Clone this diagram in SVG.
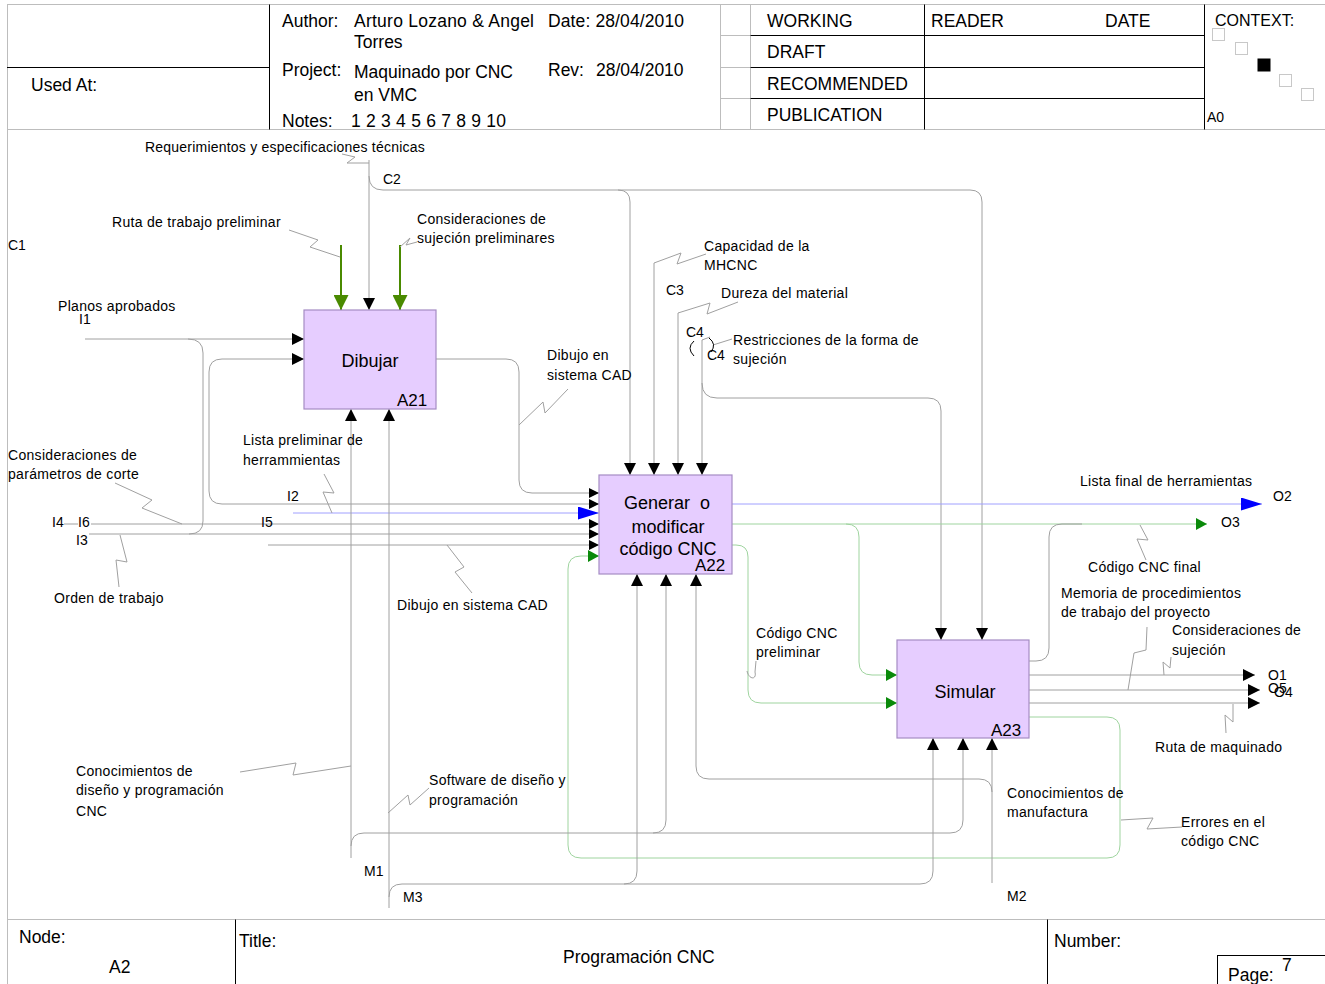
<svg xmlns="http://www.w3.org/2000/svg" width="1325" height="984" viewBox="0 0 1325 984">
<style>
text{font-family:"Liberation Sans",Arial,sans-serif;fill:#000}
.h{font-size:17.5px}
.l{font-size:14px;letter-spacing:0.3px}
.n{font-size:14px}
.bt{font-size:18px;text-anchor:middle}
.bn{font-size:17px}
.fg{stroke:#bdbdbd;stroke-width:1;fill:none}
.fb{stroke:#000;stroke-width:1;fill:none}
.c{stroke:#a0a0a0;stroke-width:1;fill:none}
.cg{stroke:#9fd49f;stroke-width:1;fill:none}
.cb{stroke:#a0a0ff;stroke-width:1;fill:none}
.gt{stroke:#4a8a00;stroke-width:2;fill:none}
.sq{stroke:#a0a0a0;stroke-width:1;fill:none}
.box{fill:#e6cdff;stroke:#a58cc4;stroke-width:1.2}
.cx{fill:#fff;stroke:#c8c8c8;stroke-width:1}
</style>
<defs>
<marker id="ab" viewBox="0 0 12 12" refX="12" refY="6" markerWidth="12" markerHeight="12" orient="auto" markerUnits="userSpaceOnUse"><path d="M0,0L12,6L0,12z" fill="#000"/></marker>
<marker id="as" viewBox="0 0 10 10" refX="10" refY="5" markerWidth="10" markerHeight="10" orient="auto" markerUnits="userSpaceOnUse"><path d="M0,0L10,5L0,10z" fill="#000"/></marker>
<marker id="ag" viewBox="0 0 11 12" refX="11" refY="6" markerWidth="11" markerHeight="12" orient="auto" markerUnits="userSpaceOnUse"><path d="M0,0L11,6L0,12z" fill="#0a8a0a"/></marker>
<marker id="agb" viewBox="0 0 15 15" refX="15" refY="7.5" markerWidth="15" markerHeight="15" orient="auto" markerUnits="userSpaceOnUse"><path d="M0,0L15,7.5L0,15z" fill="#4a8a00"/></marker>
<marker id="abl" viewBox="0 0 21 13" refX="21" refY="6.5" markerWidth="21" markerHeight="13" orient="auto" markerUnits="userSpaceOnUse"><path d="M0,0L21,6.5L0,13z" fill="#0000ff"/></marker>
</defs>
<rect x="0" y="0" width="1325" height="984" fill="#fff"/>

<g id="frame">
<path class="fg" d="M7,4.5H1325M7.5,4.5V984M7,129.5H1325M7,919.5H1325"/>
<path class="fb" d="M269.5,4.5V129.5M7,67.5H269.5"/>
<path class="fg" d="M720.5,4.5V129.5M750.5,4.5V129.5M720.5,35.5H750.5M720.5,67.5H750.5M720.5,98.5H750.5"/>
<path class="fb" d="M750.5,35.5H1204.5M750.5,67.5H1204.5M750.5,98.5H1204.5M924.5,4.5V129.5M1204.5,4.5V129.5"/>
<path class="fb" d="M235.5,919.5V984M1047.5,919.5V984"/>
<rect x="1217.5" y="955.5" width="110" height="30" fill="none" stroke="#000"/>
<rect class="cx" x="1212.5" y="28.5" width="12" height="12"/>
<rect class="cx" x="1235.5" y="42.5" width="12" height="12"/>
<rect x="1257.5" y="58.5" width="13" height="13" fill="#000"/>
<rect class="cx" x="1279.5" y="74.5" width="12" height="12"/>
<rect class="cx" x="1301.5" y="88.5" width="12" height="12"/>
<text class="h" x="31" y="91">Used At:</text>
<text class="h" x="282" y="27">Author:</text>
<text class="h" x="354" y="27" textLength="180" lengthAdjust="spacing">Arturo Lozano &amp; Angel</text>
<text class="h" x="354" y="48">Torres</text>
<text class="h" x="548" y="27" textLength="136" lengthAdjust="spacing">Date: 28/04/2010</text>
<text class="h" x="282" y="76">Project:</text>
<text class="h" x="354" y="78" textLength="159" lengthAdjust="spacing">Maquinado por CNC</text>
<text class="h" x="354" y="101">en VMC</text>
<text class="h" x="548" y="76">Rev:</text>
<text class="h" x="596" y="76">28/04/2010</text>
<text class="h" x="282" y="127">Notes:</text>
<text class="h" x="351" y="127" textLength="155" lengthAdjust="spacing">1 2 3 4 5 6 7 8 9 10</text>
<text class="h" x="767" y="27">WORKING</text>
<text class="h" x="767" y="58">DRAFT</text>
<text class="h" x="767" y="90">RECOMMENDED</text>
<text class="h" x="767" y="121">PUBLICATION</text>
<text class="h" x="931" y="27">READER</text>
<text class="h" x="1105" y="27">DATE</text>
<text x="1215" y="26" font-size="16">CONTEXT:</text>
<text x="1207" y="122" font-size="14">A0</text>
<text class="h" x="19" y="943">Node:</text>
<text class="h" x="109" y="973">A2</text>
<text class="h" x="239" y="947">Title:</text>
<text class="h" x="563" y="963">Programación CNC</text>
<text class="h" x="1054" y="947">Number:</text>
<text class="h" x="1228" y="981">Page:</text>
<text class="h" x="1282" y="971">7</text>
</g>

<g id="connectors">
<path class="c" d="M369,160V310" marker-end="url(#ab)"/>
<path class="c" d="M369,176Q369,190 383,190H618Q630,190 630,202V475" marker-end="url(#ab)"/>
<path class="c" d="M618,190H970Q982,190 982,202V640" marker-end="url(#ab)"/>
<path class="sq" d="M342,154L355,157L347,163L369,163"/>
<path class="gt" d="M341,245V310" marker-end="url(#agb)"/>
<path class="gt" d="M400,245V310" marker-end="url(#agb)"/>
<path class="sq" d="M289,230L318,240L310,247L340,257"/>
<path class="sq" d="M400,247L410,238L406,245L417,242"/>
<path class="c" d="M654,263V475" marker-end="url(#ab)"/>
<path class="sq" d="M654,263L681,253L677,264L706,254"/>
<path class="c" d="M678,313V475" marker-end="url(#ab)"/>
<path class="sq" d="M678,313L710,303L707,314L738,302"/>
<path class="c" d="M702,340V475" marker-end="url(#ab)"/>
<path class="c" d="M702,383Q702,398 717,398H928Q941,398 941,411V640" marker-end="url(#ab)"/>
<path class="sq" d="M702,340L710,337M713,345L732,339"/>
<path d="M709,338Q717,344 711,352" fill="none" stroke="#000" stroke-width="1"/>
<path d="M694,341Q686,348 694,356" fill="none" stroke="#000" stroke-width="1"/>
<path class="c" d="M85,339H304" marker-end="url(#ab)"/>
<path class="c" d="M188,339Q203,339 203,353V521Q203,534 189,534"/>
<path class="c" d="M599,504H222Q209,504 209,491V372Q209,359 222,359H304" marker-end="url(#ab)"/>
<path class="c" d="M590,504H599" marker-end="url(#as)"/>
<path class="c" d="M436,359H506Q519,359 519,372V480Q519,493 532,493H599" marker-end="url(#as)"/>
<path class="sq" d="M519,425L543,402L545,413L568,389"/>
<path class="cb" d="M293,513H599" marker-end="url(#abl)"/>
<path class="sq" d="M324,474L334,493L323,492L332,513"/>
<path class="c" d="M64,524H78M91,524H599" marker-end="url(#as)"/>
<path class="sq" d="M115,483L152,500L142,508L182,524"/>
<path class="c" d="M89,534H599" marker-end="url(#as)"/>
<path class="sq" d="M120,535L127,562L116,560L119,587"/>
<path class="c" d="M268,545H599" marker-end="url(#as)"/>
<path class="sq" d="M447,545L464,567L455,572L472,593"/>
<path class="cg" d="M1029,717H1107Q1120,717 1120,730V845Q1120,858 1107,858H581Q568,858 568,845V569Q568,556 581,556H599" marker-end="url(#ag)"/>
<path class="sq" d="M1121,820L1153,818L1147,829L1182,827"/>
<path class="cb" d="M732,504H1262" marker-end="url(#abl)"/>
<path class="cg" d="M732,524H1207" marker-end="url(#ag)"/>
<path class="cg" d="M846,524Q859,524 859,537V662Q859,675 872,675H897" marker-end="url(#ag)"/>
<path class="cg" d="M732,545H736Q748,545 748,557V690Q748,703 761,703H897" marker-end="url(#ag)"/>
<path class="sq" d="M747,671C749,680 757,680 755,672L756,661"/>
<path class="c" d="M1029,661H1036Q1049,661 1049,648V537Q1049,524 1062,524H1082"/>
<path class="sq" d="M1140,525L1148,540L1137,539L1146,560"/>
<path class="c" d="M1029,675H1255" marker-end="url(#ab)"/>
<path class="c" d="M1029,690H1260" marker-end="url(#ab)"/>
<path class="c" d="M1029,703H1260" marker-end="url(#ab)"/>
<path class="sq" d="M1147,627L1146,650L1134,653L1128,690"/>
<path class="sq" d="M1164,675L1163,662L1170,668L1171,657"/>
<path class="sq" d="M1233,704L1233,722L1225,715L1226,733"/>
<path class="c" d="M351,858V409" marker-end="url(#ab)"/>
<path class="c" d="M351,846Q351,833 364,833H653Q666,833 666,820V574" marker-end="url(#ab)"/>
<path class="c" d="M653,833H950Q963,833 963,820V738" marker-end="url(#ab)"/>
<path class="sq" d="M240,772L296,763L293,775L351,766"/>
<path class="c" d="M389,908V409" marker-end="url(#ab)"/>
<path class="c" d="M389,897Q389,884 402,884H624Q637,884 637,871V574" marker-end="url(#ab)"/>
<path class="c" d="M624,884H920Q933,884 933,871V738" marker-end="url(#ab)"/>
<path class="sq" d="M388,813L408,795L410,805L429,788"/>
<path class="c" d="M992,883V738" marker-end="url(#ab)"/>
<path class="c" d="M992,792Q992,779 979,779H709Q696,779 696,766V574" marker-end="url(#ab)"/>
</g>

<g id="A21">
<rect class="box" x="304" y="310" width="132" height="99"/>
<text class="bt" x="370" y="367">Dibujar</text>
<text class="bn" x="397" y="406">A21</text>
</g>
<g id="A22">
<rect class="box" x="599" y="475" width="133" height="99"/>
<text class="bt" x="667" y="509"><tspan>Generar</tspan><tspan dx="10">o</tspan></text>
<text class="bt" x="668" y="533">modificar</text>
<text class="bt" x="668" y="555">código CNC</text>
<text class="bn" x="695" y="571">A22</text>
</g>
<g id="A23">
<rect class="box" x="897" y="640" width="132" height="98"/>
<text class="bt" x="965" y="698">Simular</text>
<text class="bn" x="991" y="736">A23</text>
</g>

<g id="labels">
<text class="l" x="145" y="152" textLength="280" lengthAdjust="spacing">Requerimientos y especificaciones técnicas</text>
<text class="n" x="383" y="184">C2</text>
<text class="l" x="112" y="227">Ruta de trabajo preliminar</text>
<text class="n" x="8" y="250">C1</text>
<text class="l" x="417" y="224">Consideraciones de</text>
<text class="l" x="417" y="243">sujeción preliminares</text>
<text class="l" x="704" y="251">Capacidad de la</text>
<text class="l" x="704" y="270">MHCNC</text>
<text class="n" x="666" y="295">C3</text>
<text class="l" x="721" y="298">Dureza del material</text>
<text class="n" x="686" y="337">C4</text>
<text class="n" x="707" y="360">C4</text>
<text class="l" x="733" y="345">Restricciones de la forma de</text>
<text class="l" x="733" y="364">sujeción</text>
<text class="l" x="58" y="311">Planos aprobados</text>
<text class="n" x="79" y="324">I1</text>
<text class="l" x="547" y="360">Dibujo en</text>
<text class="l" x="547" y="380">sistema CAD</text>
<text class="l" x="243" y="445">Lista preliminar de</text>
<text class="l" x="243" y="465">herrammientas</text>
<text class="l" x="8" y="460">Consideraciones de</text>
<text class="l" x="8" y="479">parámetros de corte</text>
<text class="n" x="287" y="501">I2</text>
<text class="n" x="52" y="527">I4</text>
<text class="n" x="78" y="527">I6</text>
<text class="n" x="261" y="527">I5</text>
<text class="n" x="76" y="545">I3</text>
<text class="l" x="54" y="603">Orden de trabajo</text>
<text class="l" x="397" y="610">Dibujo en sistema CAD</text>
<text class="l" x="1080" y="486">Lista final de herramientas</text>
<text class="n" x="1273" y="501">O2</text>
<text class="n" x="1221" y="527">O3</text>
<text class="l" x="1088" y="572">Código CNC final</text>
<text class="l" x="1061" y="598">Memoria de procedimientos</text>
<text class="l" x="1061" y="617">de trabajo del proyecto</text>
<text class="l" x="1172" y="635">Consideraciones de</text>
<text class="l" x="1172" y="655">sujeción</text>
<text class="l" x="756" y="638">Código CNC</text>
<text class="l" x="756" y="657">preliminar</text>
<text class="n" x="1268" y="680">O1</text>
<text class="n" x="1268" y="693">O5</text>
<text class="n" x="1274" y="697">O4</text>
<text class="l" x="1155" y="752">Ruta de maquinado</text>
<text class="l" x="1007" y="798">Conocimientos de</text>
<text class="l" x="1007" y="817">manufactura</text>
<text class="l" x="1181" y="827">Errores en el</text>
<text class="l" x="1181" y="846">código CNC</text>
<text class="n" x="1007" y="901">M2</text>
<text class="l" x="76" y="776">Conocimientos de</text>
<text class="l" x="76" y="795">diseño y programación</text>
<text class="l" x="76" y="816">CNC</text>
<text class="l" x="429" y="785">Software de diseño y</text>
<text class="l" x="429" y="805">programación</text>
<text class="n" x="364" y="876">M1</text>
<text class="n" x="403" y="902">M3</text>
</g>
</svg>
